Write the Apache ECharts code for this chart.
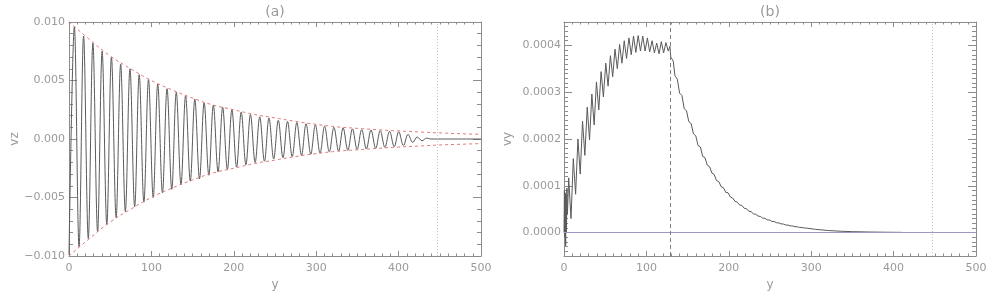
<!DOCTYPE html>
<html><head><meta charset="utf-8">
<script src="https://cdn.jsdelivr.net/npm/echarts@6/dist/echarts.min.js"></script>
<style>html,body{margin:0;padding:0;background:#fff}#c{width:997px;height:301px}</style>
</head><body><div id="c"></div>
<script>
// ---------- data ----------
const panelTitles = ['(a)', '(b)'];
const xTicks = [0, 100, 200, 300, 400, 500];
const vzTicks = [-0.010, -0.005, 0.000, 0.005, 0.010];
const vyTicks = [0.0000, 0.0001, 0.0002, 0.0003, 0.0004];

// panel (a): extrema of vz along y
const vzY = [0, 6.5, 12.2, 17.7, 23.4, 29.0, 34.7, 40.2, 45.9, 51.5, 57.2, 62.7, 68.4, 74.0, 79.7, 85.2, 90.9, 96.5, 102.2,
  107.7, 113.4, 119.0, 124.7, 130.2, 135.9, 141.5, 147.2, 152.7, 158.4, 164.0, 169.7, 175.2, 180.9, 186.5, 192.2,
  197.7, 203.4, 209.0, 214.7, 220.2, 225.9, 231.5, 237.2, 242.7, 248.4, 254.0, 259.7, 265.2, 270.9, 276.5, 282.2,
  287.7, 293.4, 299.0, 304.7, 310.2, 315.9, 321.5, 327.2, 332.7, 338.4, 344.0, 349.7, 355.2, 360.9, 366.5, 372.2,
  377.7, 383.4, 389.0, 394.7, 400.2, 405.9, 411.5, 417.2, 422.7, 428.4, 434.0, 439.0, 500];
const vzV = [-0.0099, 0.0096, -0.0092, 0.0088, -0.0085, 0.0082, -0.0079, 0.0075, -0.0073, 0.0070, -0.0067, 0.0064, -0.0062,
  0.0060, -0.0058, 0.0055, -0.0054, 0.0051, -0.0050, 0.0047, -0.0046, 0.0043, -0.0043, 0.0040, -0.0039, 0.0037, -0.0036,
  0.0034, -0.0034, 0.0031, -0.0031, 0.0029, -0.0028, 0.0027, -0.0026, 0.0025, -0.0024, 0.0023, -0.0022, 0.0021, -0.0020,
  0.0019, -0.0019, 0.0018, -0.0017, 0.0016, -0.0016, 0.0015, -0.0015, 0.0014, -0.0014, 0.0013, -0.0013, 0.0012, -0.0012,
  0.0011, -0.0011, 0.0010, -0.00103, 0.00095, -0.00097, 0.00087, -0.00089, 0.00081, -0.00085, 0.00077, -0.00079,
  0.00071, -0.00072, 0.00066, -0.00065, 0.00062, -0.00057, 0.00040, -0.00029, 0.00017, -0.00015, 0.00008, 0.0, 0.0];

// panel (a): red dashed envelopes
const envY = [0, 25, 50, 75, 100, 125, 150, 175, 200, 225, 250, 275, 300, 325, 350, 375, 400, 425, 450, 475, 500];
const envUpper = [0.0100, 0.0085, 0.0071, 0.0060, 0.0050, 0.0042, 0.0035, 0.0029, 0.0025, 0.0021, 0.0018, 0.0015,
  0.00125, 0.00104, 0.00091, 0.00079, 0.00069, 0.00060, 0.00052, 0.00045, 0.00040];
const envLower = [-0.0100, -0.0085, -0.0071, -0.0060, -0.0050, -0.0042, -0.0035, -0.0029, -0.0025, -0.0021, -0.0018,
  -0.0015, -0.00125, -0.00105, -0.00092, -0.00080, -0.00069, -0.00060, -0.00051, -0.00045, -0.00039];

// panel (b): vy along y
const vyY = [0, 0.5, 1.0, 1.5, 2.0, 2.5, 3.0, 3.5, 4.2,
  5.7, 8.5, 11.3, 14.1, 16.9, 19.7, 22.5, 25.3, 28.2, 31.0, 33.8, 36.6, 39.4, 42.2, 45.0, 47.8, 50.7, 53.5, 56.3, 59.1,
  61.9, 64.7, 67.5, 70.3, 73.1, 75.9, 78.8, 81.6, 84.4, 87.2, 90.0, 92.8, 95.6, 98.4, 101.2, 104.0, 106.9, 109.7,
  112.5, 115.3, 118.1, 120.9, 123.7, 126.5, 128.5, 129.6, 132.5, 134.7, 137.5, 140.3, 143.1, 145.9, 148.7, 151.5, 154.3,
  157.1, 159.9, 162.7, 165.5, 168.3, 171.1, 173.9, 176.7, 179.5, 182.3, 185.1, 187.9, 190.7, 193.5, 196.3, 199.1,
  201.9, 204.7, 207.5, 210.3, 213.1, 215.9, 218.7, 221.5, 224.3, 227.1, 229.9, 232.7, 235.5, 238.3, 241.1, 243.9,
  246.7, 249.5, 252.3, 255.1, 257.9, 260.7, 263.5, 266.3, 269.1, 271.9, 274.7, 277.5, 280.3, 283.1, 285.9, 288.7,
  291.5, 294.3, 305, 320, 335, 350, 370, 390, 410];
const vyV = [0, 90e-6, -10e-6, 85e-6, -28e-6, 80e-6, 0, 95e-6, 40e-6,
  117e-6, 30e-6, 158e-6, 82e-6, 200e-6, 125e-6, 238e-6, 165e-6, 268e-6, 198e-6, 296e-6, 230e-6, 322e-6, 262e-6,
  344e-6, 290e-6, 362e-6, 313e-6, 378e-6, 333e-6, 392e-6, 350e-6, 402e-6, 362e-6, 410e-6, 372e-6, 416e-6, 380e-6,
  420e-6, 385e-6, 421e-6, 388e-6, 420e-6, 388e-6, 416e-6, 386e-6, 410e-6, 384e-6, 405e-6, 382e-6, 408e-6, 384e-6,
  406e-6, 388e-6, 398e-6, 375e-6, 367e-6, 335e-6, 328e-6, 298e-6, 293e-6, 265e-6, 260e-6, 237e-6, 233e-6,
  211e-6, 207e-6, 186e-6, 183e-6, 163e-6, 160e-6, 144e-6, 141e-6, 127e-6, 124e-6, 111e-6, 109e-6, 98e-6, 96e-6,
  86e-6, 85e-6, 76e-6, 74e-6, 67e-6, 65e-6, 59e-6, 58e-6, 52e-6, 51e-6, 45.5e-6, 44.6e-6, 40e-6, 39.3e-6,
  35.3e-6, 34.6e-6, 31e-6, 30.4e-6, 27.2e-6, 26.7e-6, 24e-6, 23.6e-6, 21.1e-6, 20.7e-6, 18.6e-6, 18.3e-6,
  16.3e-6, 16e-6, 14.4e-6, 14.1e-6, 12.7e-6, 12.4e-6, 11.1e-6, 10.9e-6, 9.8e-6, 9.6e-6, 7.0e-6, 4.5e-6, 3.0e-6,
  2.0e-6, 1.3e-6, 0.8e-6, 0.5e-6];

// reference lines
const dottedLineA = [447];
const dottedLineB = [447];
const dashedLineB = [129];
const zeroLineB = [0];

// ---------- chart ----------
const AX = '#8c8c8c', TX = '#9a9a9a', FONT = 'DejaVu Sans';
const pairs = (xs, ys) => xs.map((x, i) => [x, ys[i]]);

function xAx(grid, pos, labels) {
  return {
    type: 'value', gridIndex: grid, position: pos, min: 0, max: 500, interval: 100,
    axisLine: {show: true, onZero: false, lineStyle: {color: AX, width: 1}},
    axisTick: {show: true, inside: true, length: 5, lineStyle: {color: AX}},
    minorTick: {show: true, splitNumber: 10, length: 2.5, lineStyle: {color: AX}},
    axisLabel: labels ? {show: true, color: TX, fontFamily: FONT, fontSize: 11, margin: 7,
      customValues: xTicks, formatter: v => String(v)} : {show: false},
    splitLine: {show: false},
    name: labels ? 'y' : '', nameLocation: 'middle', nameGap: 21,
    nameTextStyle: {color: TX, fontFamily: FONT, fontSize: 12}
  };
}
const fmtA = v => (v < -1e-9 ? '\u2212' : '') + Math.abs(v).toFixed(3);
const fmtB = v => (v < -1e-12 ? '\u2212' : '') + Math.abs(v).toFixed(4);

const yAxes = [
  { type: 'value', gridIndex: 0, position: 'left', min: -0.010, max: 0.010, interval: 0.005,
    axisLine: {show: true, onZero: false, lineStyle: {color: AX}},
    axisTick: {show: true, inside: true, length: 8, lineStyle: {color: AX}},
    minorTick: {show: true, splitNumber: 5, length: 4, lineStyle: {color: AX}},
    axisLabel: {show: true, color: TX, fontFamily: FONT, fontSize: 11, margin: 4, customValues: vzTicks, formatter: fmtA},
    splitLine: {show: false},
    name: 'vz', nameLocation: 'middle', nameGap: 47, nameTextStyle: {color: TX, fontFamily: FONT, fontSize: 12} },
  { type: 'value', gridIndex: 0, position: 'right', min: -0.010, max: 0.010, interval: 0.005,
    axisLine: {show: true, onZero: false, lineStyle: {color: AX}},
    axisTick: {show: true, inside: true, length: 8, lineStyle: {color: AX}},
    minorTick: {show: true, splitNumber: 5, length: 4, lineStyle: {color: AX}},
    axisLabel: {show: false}, splitLine: {show: false} },
  // panel b: minor-tick axes (interval 1e-5) + major/label axes
  { type: 'value', gridIndex: 1, position: 'left', min: -0.00005, max: 0.00045, interval: 0.00001,
    axisLine: {show: true, onZero: false, lineStyle: {color: AX}},
    axisTick: {show: true, inside: true, length: 4, lineStyle: {color: AX}},
    axisLabel: {show: false}, splitLine: {show: false} },
  { type: 'value', gridIndex: 1, position: 'left', min: -0.00005, max: 0.00045,
    axisLine: {show: false, onZero: false},
    axisTick: {show: true, inside: true, length: 8, customValues: vyTicks, lineStyle: {color: AX}},
    axisLabel: {show: true, color: TX, fontFamily: FONT, fontSize: 11, margin: 3, customValues: vyTicks, formatter: fmtB},
    splitLine: {show: false},
    name: 'vy', nameLocation: 'middle', nameGap: 50, nameTextStyle: {color: TX, fontFamily: FONT, fontSize: 12} },
  { type: 'value', gridIndex: 1, position: 'right', min: -0.00005, max: 0.00045, interval: 0.00001,
    axisLine: {show: true, onZero: false, lineStyle: {color: AX}},
    axisTick: {show: true, inside: true, length: 4, lineStyle: {color: AX}},
    axisLabel: {show: false}, splitLine: {show: false} },
  { type: 'value', gridIndex: 1, position: 'right', min: -0.00005, max: 0.00045,
    axisLine: {show: false, onZero: false},
    axisTick: {show: true, inside: true, length: 8, customValues: vyTicks, lineStyle: {color: AX}},
    axisLabel: {show: false}, splitLine: {show: false} }
];

const noSym = {symbol: ['none', 'none'], silent: true, label: {show: false}, animation: false};

const option = {
  animation: false,
  backgroundColor: '#fff',
  grid: [
    {left: 69, top: 22, width: 412, height: 234},
    {left: 564, top: 22, width: 412, height: 234}
  ],
  xAxis: [xAx(0, 'bottom', true), xAx(0, 'top', false), xAx(1, 'bottom', true), xAx(1, 'top', false)],
  yAxis: yAxes,
  graphic: [
    {type: 'text', x: 275, y: 12, style: {text: panelTitles[0], fill: TX, font: '14px ' + FONT, textAlign: 'center', textVerticalAlign: 'middle'}},
    {type: 'text', x: 770, y: 12, style: {text: panelTitles[1], fill: TX, font: '14px ' + FONT, textAlign: 'center', textVerticalAlign: 'middle'}}
  ],
  series: [
    { type: 'line', xAxisIndex: 0, yAxisIndex: 0, data: pairs(envY, envUpper), showSymbol: false, smooth: true,
      lineStyle: {color: '#e07878', width: 1, type: [3, 3]}, z: 3 },
    { type: 'line', xAxisIndex: 0, yAxisIndex: 0, data: pairs(envY, envLower), showSymbol: false, smooth: true,
      lineStyle: {color: '#e07878', width: 1, type: [3, 3]}, z: 3 },
    { type: 'line', xAxisIndex: 0, yAxisIndex: 0, data: pairs(vzY, vzV), showSymbol: false, smooth: 0.36,
      lineStyle: {color: '#5a5a5a', width: 1}, z: 2,
      markLine: Object.assign({}, noSym, {data: dottedLineA.map(v => ({xAxis: v,
        lineStyle: {color: '#c4c4c4', width: 1, type: [1, 2]}}))}) },
    { type: 'line', xAxisIndex: 2, yAxisIndex: 2, data: pairs(vyY, vyV), showSymbol: false, smooth: false,
      lineStyle: {color: '#5a5a5a', width: 1}, z: 2,
      markLine: Object.assign({}, noSym, {data:
        zeroLineB.map(v => ({yAxis: v, lineStyle: {color: '#9a9ac2', width: 1, type: 'solid'}}))
        .concat(dashedLineB.map(v => ({xAxis: v, lineStyle: {color: '#808080', width: 1, type: [4, 3]}})))
        .concat(dottedLineB.map(v => ({xAxis: v, lineStyle: {color: '#c4c4c4', width: 1, type: [1, 2]}})))}) }
  ]
};
echarts.init(document.getElementById('c'), null, {renderer: 'canvas'}).setOption(option);
</script></body></html>
